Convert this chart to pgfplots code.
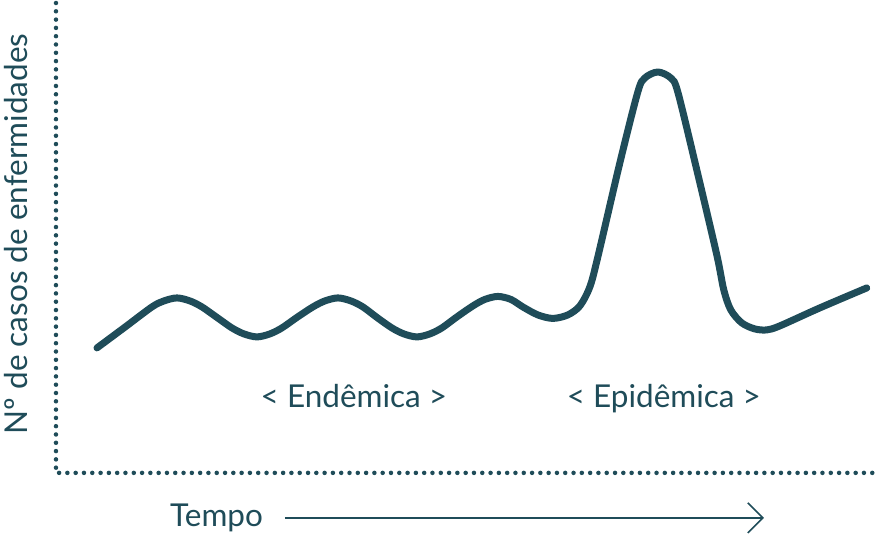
\documentclass[border=0pt]{standalone}
\usepackage{pgfplots}
\pgfplotsset{compat=1.18}
\usepackage{fontspec}
\setmainfont{Lato}
\definecolor{teal}{RGB}{31,76,89}
\begin{document}
\begin{tikzpicture}
\begin{axis}[
  x=1pt, y=1pt, y dir=reverse,
  xmin=0, xmax=878, ymin=0, ymax=535,
  hide axis, scale only axis, clip=false,
  anchor=origin, at={(0,0)},
]
\draw[draw=none] (rel axis cs:0,0) rectangle (rel axis cs:1,1);
% dotted axes
\draw[teal, line width=4.5pt, line cap=round, dash pattern=on 0pt off 8.3pt]
  (axis cs:56,3) -- (axis cs:56,473) -- (axis cs:876,473);
% curve
\addplot[teal, line width=7pt, line cap=round, line join=round, smooth, tension=0.5] coordinates {
(97,348) (125,327.2) (152,307) (164,301) (177,298) (190,301) (202,307)
(217,317.5) (232,328) (244,334) (257,337) (270,334) (282,328)
(297,317.5) (313,307) (325,301) (338,298) (351,301) (363,307)
(377,317.5) (392,328) (404,334) (417,337) (430,334) (442,328)
(457,317) (473,306) (485,299.5) (498,296.5) (511,299.5) (523,307)
(538,315) (553,318.5) (568,315) (580,306) (590,287) (598,257)
(620,163) (638,92) (645,78) (658,72) (671,78) (678,92)
(697,170) (717,255) (724,290) (731,310) (742,323) (755,329)
(767,330) (780,326) (820,308) (867,288)
};
% labels
\node[teal, anchor=base, inner sep=0, font=\fontsize{31.5}{36}\selectfont] at (axis cs:354,408) {< Endêmica >};
\node[teal, anchor=base, inner sep=0, font=\fontsize{31.5}{36}\selectfont] at (axis cs:664,408) {< Epidêmica >};
\node[teal, anchor=base west, inner sep=0, font=\fontsize{31.5}{36}\selectfont] at (axis cs:170,527) {Tempo};
\node[teal, anchor=base, rotate=90, inner sep=0, font=\fontsize{31.5}{36}\selectfont] at (axis cs:28,234) {Nº de casos de enfermidades};
% arrow
\draw[teal, line width=1.6pt] (axis cs:285,518) -- (axis cs:763,518);
\draw[teal, line width=1.6pt] (axis cs:748,503) -- (axis cs:763,518) -- (axis cs:748,533);
\end{axis}
\end{tikzpicture}
\end{document}
